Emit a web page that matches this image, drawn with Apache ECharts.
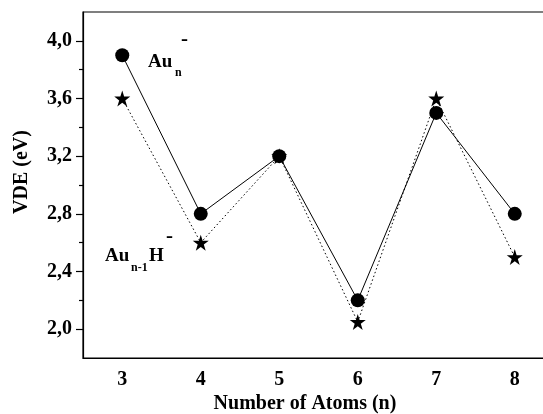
<!DOCTYPE html>
<html>
<head>
<meta charset="utf-8">
<script src="https://cdn.jsdelivr.net/npm/echarts@6/dist/echarts.min.js"></script>
<style>
html,body{margin:0;padding:0;background:#fff;}
#c{width:543px;height:414px;}
</style>
</head>
<body>
<div id="c"></div>
<script>
var categories = ['3', '4', '5', '6', '7', '8'];
var auN = [3.9, 2.8, 3.2, 2.2, 3.5, 2.8];          // circles, Au_n^-
var auN1H = [3.6, 2.6, 3.2, 2.05, 3.6, 2.5];       // stars, Au_(n-1)H^-
var yMajorTicks = [2.0, 2.4, 2.8, 3.2, 3.6, 4.0];
var yMinorTicks = [2.2, 2.6, 3.0, 3.4, 3.8];

var FONT = '"Liberation Serif", "DejaVu Serif", serif';
var STAR = 'path://M50,0 L61.2,34.5 L97.6,34.5 L68.2,55.9 L79.4,90.5 L50,69.1 L20.6,90.5 L31.8,55.9 L2.4,34.5 L38.8,34.5 Z';

var chart = echarts.init(document.getElementById('c'));
function txt(x, y, s, size, align, vAlign) {
  return {type: 'text', x: x, y: y, style: {text: s, font: 'bold ' + size + 'px ' + FONT, fill: '#000',
    align: align || 'left', verticalAlign: vAlign || 'middle'}};
}
chart.setOption({
  backgroundColor: '#fff',
  animation: false,
  grid: {left: 83, top: 12, right: -11, bottom: 56, show: true, borderColor: '#000', borderWidth: 1.2,
    outerBoundsMode: 'none', containLabel: false},
  xAxis: {
    type: 'category', data: categories, boundaryGap: true,
    axisLine: {lineStyle: {color: '#000', width: 1.2}},
    axisTick: {alignWithLabel: true, length: 7, lineStyle: {color: '#000', width: 1.2}},
    axisLabel: {color: '#000', fontFamily: FONT, fontWeight: 'bold', fontSize: 20, margin: 12},
    splitLine: {show: false}
  },
  yAxis: [{
    type: 'value', min: 1.8, max: 4.2,
    axisLine: {show: true, lineStyle: {color: '#000', width: 1.2}},
    axisTick: {show: true, customValues: yMajorTicks, length: 7, lineStyle: {color: '#000', width: 1.2}},
    axisLabel: {customValues: yMajorTicks, color: '#000', fontFamily: FONT, fontWeight: 'bold', fontSize: 20, margin: 11,
      formatter: function (v) { return v.toFixed(1).replace('.', ','); }},
    splitLine: {show: false}
  }, {
    type: 'value', min: 1.8, max: 4.2, position: 'left',
    axisLine: {show: false},
    axisTick: {show: true, customValues: yMinorTicks, length: 4, lineStyle: {color: '#000', width: 1.2}},
    axisLabel: {show: false},
    splitLine: {show: false}
  }],
  series: [{
    name: 'AuN1H', type: 'line', data: auN1H, yAxisIndex: 0,
    symbol: STAR, symbolSize: 16, itemStyle: {color: '#000'},
    lineStyle: {color: '#000', width: 1, type: [1.5, 2.5]}, z: 2
  }, {
    name: 'AuN', type: 'line', data: auN, yAxisIndex: 0,
    symbol: 'circle', symbolSize: 14, itemStyle: {color: '#000'},
    lineStyle: {color: '#000', width: 1, type: 'solid'}, z: 3
  }],
  graphic: [
    txt(305, 404, 'Number of Atoms (n)', 20, 'center', 'middle'),
    {type: 'text', x: 22, y: 172, rotation: Math.PI / 2,
      style: {text: 'VDE (eV)', font: 'bold 20px ' + FONT, fill: '#000', align: 'center', verticalAlign: 'middle'}},
    txt(148, 62, 'Au', 19),
    txt(175, 73, 'n', 12),
    txt(181, 40, '-', 21),
    txt(105, 256, 'Au', 19),
    txt(131, 268, 'n-1', 12),
    txt(149, 256, 'H', 19),
    txt(166, 237, '-', 21)
  ]
});
</script>
</body>
</html>
